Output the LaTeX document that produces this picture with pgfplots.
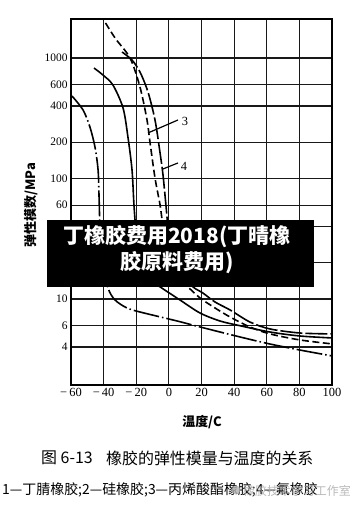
\documentclass[border=0pt]{standalone}
\usepackage{pgfplots}
\pgfplotsset{compat=1.18}
\usepackage{fontspec}
\setmainfont{Liberation Serif}
\newfontfamily\cjk{Noto Sans CJK SC}
\begin{document}
\begin{tikzpicture}
\begin{axis}[
  at={(71bp,-385bp)}, anchor=south west,
  width=261bp, height=366bp, scale only axis,
  xmin=-60, xmax=100, ymode=log, ymin=1.933, ymax=2107,
  xtick={-60,-40,-20,0,20,40,60,80,100},
  xticklabels={{−\,60},{−\,40},{−\,20},0,20,40,60,80,100},
  ytick={4,6,10,20,40,60,100,200,400,600,1000},
  yticklabels={4,6,10,20,40,60,100,200,400,600,1000},
  minor y tick num=0, minor x tick num=0,
  grid=major, major grid style={black!90, line width=1.2bp},
  axis line style={black, line width=1.3bp},
  major tick length=0pt, minor tick length=0pt,
  yticklabel style={font=\fontsize{11.5}{12}\selectfont},
  xticklabel style={font=\fontsize{12.5}{13}\selectfont},
  every axis plot/.append style={line width=1.6bp, black},
]
% curve 1: nitrile rubber (dash-dot)
\addplot[smooth, dash pattern=on 26bp off 3bp on 1.5bp off 3bp] coordinates {
 (-59.4,483.8) (-52.6,370) (-48.4,267.5) (-45.3,182.5) (-43.4,117.6) (-42.8,70.2)
 (-42.2,37.4) (-41.0,21.1) (-37.3,12.34) (-33.0,9.81) (-25.7,8.42) (-17.7,7.80)
 (5.0,6.57) (19.1,5.86) (43.6,4.84) (62.0,4.23) (80.4,3.77) (100,3.37)};
% curve 2: silicone rubber (solid)
\addplot[smooth] coordinates {
 (-45.9,826) (-40.4,722) (-34.3,597) (-28.1,385) (-25.1,221) (-22.6,118) (-21.4,60.3)
 (-20.2,37.4) (-17.7,20.3) (-11.6,14.4) (-5.4,12.6) (6.8,9.81) (19.1,7.65) (31.3,6.57)
 (43.6,6.0) (62.0,5.32) (80.4,4.93) (100,4.75)};
% curve 3: acrylate rubber (dashed)
\addplot[smooth, dash pattern=on 7bp off 3.5bp] coordinates {
 (-42.2,2318) (-33.0,1466) (-23.8,1000) (-17.7,574) (-13.4,306) (-11.6,201) (-8.5,101)
 (-5.4,60.3) (-3.6,41.1) (0.7,23.2) (6.8,14.9) (11.7,12.6) (19.1,10.2) (28.3,8.42)
 (37.5,7.09) (49.7,5.86) (62.0,5.13) (80.4,4.57) (100,4.24)};
% curve 4: fluoro rubber (long dash)
\addplot[smooth, dash pattern=on 22bp off 3bp] coordinates {
 (-28.7,1121) (-22.6,962) (-17.7,765) (-12.8,522) (-8.5,306) (-5.4,163) (-3.6,107)
 (-1.8,60.3) (-0.5,41.1) (3.8,23.2) (9.9,15.5) (14.8,12.6) (20.9,11.2) (28.3,9.44)
 (37.5,8.11) (49.7,6.44) (62.0,5.64) (80.4,5.22) (100,5.13)};
\draw[line width=1.2bp] (axis cs:-12.8,238.8) -- (axis cs:5.6,306);
\node[font=\fontsize{12.5}{13}\selectfont] at (axis cs:9.9,295) {3};
\draw[line width=1.2bp] (axis cs:-3.6,120) -- (axis cs:5.6,134.6);
\node[font=\fontsize{12.5}{13}\selectfont] at (axis cs:9.3,127) {4};
\end{axis}
% banner
\fill[black] (47bp,-220bp) rectangle (314bp,-287bp);
\node[text=white, align=center, inner sep=0pt, font=\cjk\bfseries\fontsize{21}{26}\selectfont] at (177bp,-250bp) {丁橡胶费用2018(丁晴橡\\胶原料费用)};
% labels
\node[rotate=90, inner sep=0pt, font=\cjk\bfseries\fontsize{13}{15}\selectfont] at (31bp,-205bp) {弹性模数/MPa};
\node[inner sep=0pt, font=\cjk\bfseries\fontsize{13}{15}\selectfont] at (202bp,-422bp) {温度/C};
\node[anchor=west, inner sep=0pt, font=\cjk\fontsize{16}{18}\selectfont] at (41bp,-458bp) {图 6-13};
\node[anchor=west, inner sep=0pt, font=\cjk\fontsize{16}{18}\selectfont] at (106bp,-458bp) {橡胶的弹性模量与温度的关系};
\node[anchor=west, inner sep=0pt, font=\cjk\fontsize{14}{16}\selectfont] at (2bp,-490bp) {1—丁腈橡胶;2—硅橡胶;3—丙烯酸酯橡胶;4—氟橡胶};
% watermark
\fill[gray!60, opacity=0.8] (236bp,-490bp) circle (4.5bp);
\node[anchor=west, inner sep=0pt, text=gray!65, opacity=0.85, font=\cjk\fontsize{12}{14}\selectfont] at (243bp,-491bp) {橡胶技术学习工作室};
\pgfresetboundingbox
\useasboundingbox (0bp,0bp) rectangle (362bp,-507bp);
\end{tikzpicture}
\end{document}
